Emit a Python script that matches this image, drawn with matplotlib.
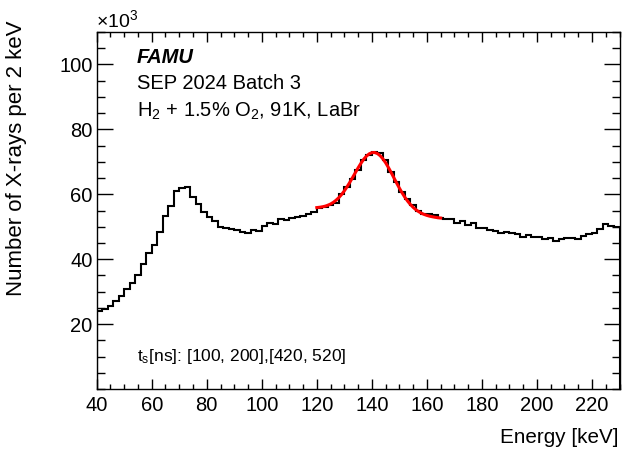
"""
FAMU energy spectrum, ROOT-like look.
"""

import numpy as np
import matplotlib.pyplot as plt
from matplotlib.ticker import MultipleLocator

plt.rcParams["font.family"] = ["Liberation Sans", "DejaVu Sans"]
plt.rcParams["mathtext.fontset"] = "custom"
plt.rcParams["mathtext.rm"] = "Liberation Sans"
plt.rcParams["mathtext.it"] = "Liberation Sans:italic"
plt.rcParams["mathtext.bf"] = "Liberation Sans:bold"

# ==========================================================
# Data (counts in units of 10^3 per 2 keV bin)
# ==========================================================

bin_start = 40
bin_width = 2

counts = [
    24.0, 24.6, 25.7, 27.1, 28.8, 30.7, 32.8, 35.2, 38.4, 41.8,
    44.3, 48.4, 53.4, 56.5, 61.0, 61.8, 62.3, 59.3, 57.0, 54.4,
    53.1, 51.9, 50.0, 49.6, 49.3, 49.0, 48.3, 48.0, 49.0, 48.8,
    50.3, 51.1, 50.8, 52.4, 52.2, 52.7, 52.9, 53.3, 53.9, 54.5,
    55.9, 56.2, 56.7, 57.4, 60.0, 62.2, 64.6, 67.5, 70.6, 72.1,
    73.1, 72.6, 70.6, 67.0, 63.8, 60.8, 58.4, 56.6, 55.0, 54.0,
    53.8, 53.6, 52.6, 52.3, 52.3, 51.2, 51.8, 50.5, 51.2, 49.7,
    49.5, 49.0, 48.8, 48.2, 48.5, 48.0, 47.7, 46.9, 47.5, 46.9,
    46.7, 46.1, 46.6, 45.5, 46.1, 46.5, 46.6, 46.2, 47.1, 47.7,
    48.2, 49.2, 50.8, 50.2, 50.0,
]

# fit curve (keV, 10^3 counts)
fit_energy = list(range(120, 166))
fit_counts = [
    55.90, 56.00, 56.13, 56.33, 56.61, 57.00, 57.51, 58.17, 58.97, 59.93,
    61.05, 62.32, 63.70, 65.17, 66.66, 68.13, 69.51, 70.74, 71.73, 72.44,
    72.83, 72.87, 72.56, 71.90, 70.93, 69.71, 68.28, 66.72, 65.10, 63.47,
    61.90, 60.43, 59.08, 57.89, 56.86, 55.98, 55.25, 54.65, 54.17, 53.79,
    53.49, 53.25, 53.07, 52.91, 52.78, 52.68,
]

x_range = (40, 230)
y_range = (0, 110)

# ==========================================================
# Figure
# ==========================================================

fig = plt.figure(figsize=(6.22, 4.57), dpi=100)
ax = fig.add_axes([96.7 / 622, 1 - 389 / 457, 522.8 / 622, 357 / 457])

edges = bin_start + bin_width * np.arange(len(counts) + 1)
ax.stairs(counts, edges, color="black", linewidth=1.5)
ax.plot(fit_energy, fit_counts, color="red", linewidth=2.2)

ax.set_xlim(*x_range)
ax.set_ylim(*y_range)

ax.xaxis.set_major_locator(MultipleLocator(20))
ax.xaxis.set_minor_locator(MultipleLocator(5))
ax.yaxis.set_minor_locator(MultipleLocator(5))
ax.set_yticks([20, 40, 60, 80, 100])

ax.tick_params(axis="both", which="both", direction="in",
               top=True, right=True, labelsize=14.5, width=1)
ax.tick_params(axis="x", which="major", length=7.5, pad=5)
ax.tick_params(axis="x", which="minor", length=3.8)
ax.tick_params(axis="y", which="major", length=11.3, pad=3)
ax.tick_params(axis="y", which="minor", length=5.6)
for s in ax.spines.values():
    s.set_linewidth(1)

fig.text(96 / 622, 1 - 20 / 457, r"$\times10^{3}$", fontsize=14,
         ha="left", va="center")
fig.text(17 / 622, 1 - 21 / 457, "Number of X-rays per 2 keV",
         rotation=90, ha="center", va="top", fontsize=16)
fig.text(619 / 622, 1 - 443 / 457, "Energy [keV]",
         ha="right", va="baseline", fontsize=14.9)

fig.text(137 / 622, 1 - 63 / 457, "FAMU", fontsize=14.5,
         fontweight="bold", fontstyle="italic", va="baseline")
fig.text(137 / 622, 1 - 89 / 457, "SEP 2024 Batch 3", fontsize=14.5,
         va="baseline")
fig.text(137 / 622, 1 - 117 / 457, r"H$_{2}$ + 1.5% O$_{2}$, 91K, LaBr",
         fontsize=14.5, va="baseline")
fig.text(137 / 622, 1 - 361 / 457, r"t$_{\mathrm{s}}$[ns]: [100, 200],[420, 520]",
         fontsize=12.5, va="baseline")

fig.savefig("out.png", dpi=100)
plt.close(fig)
